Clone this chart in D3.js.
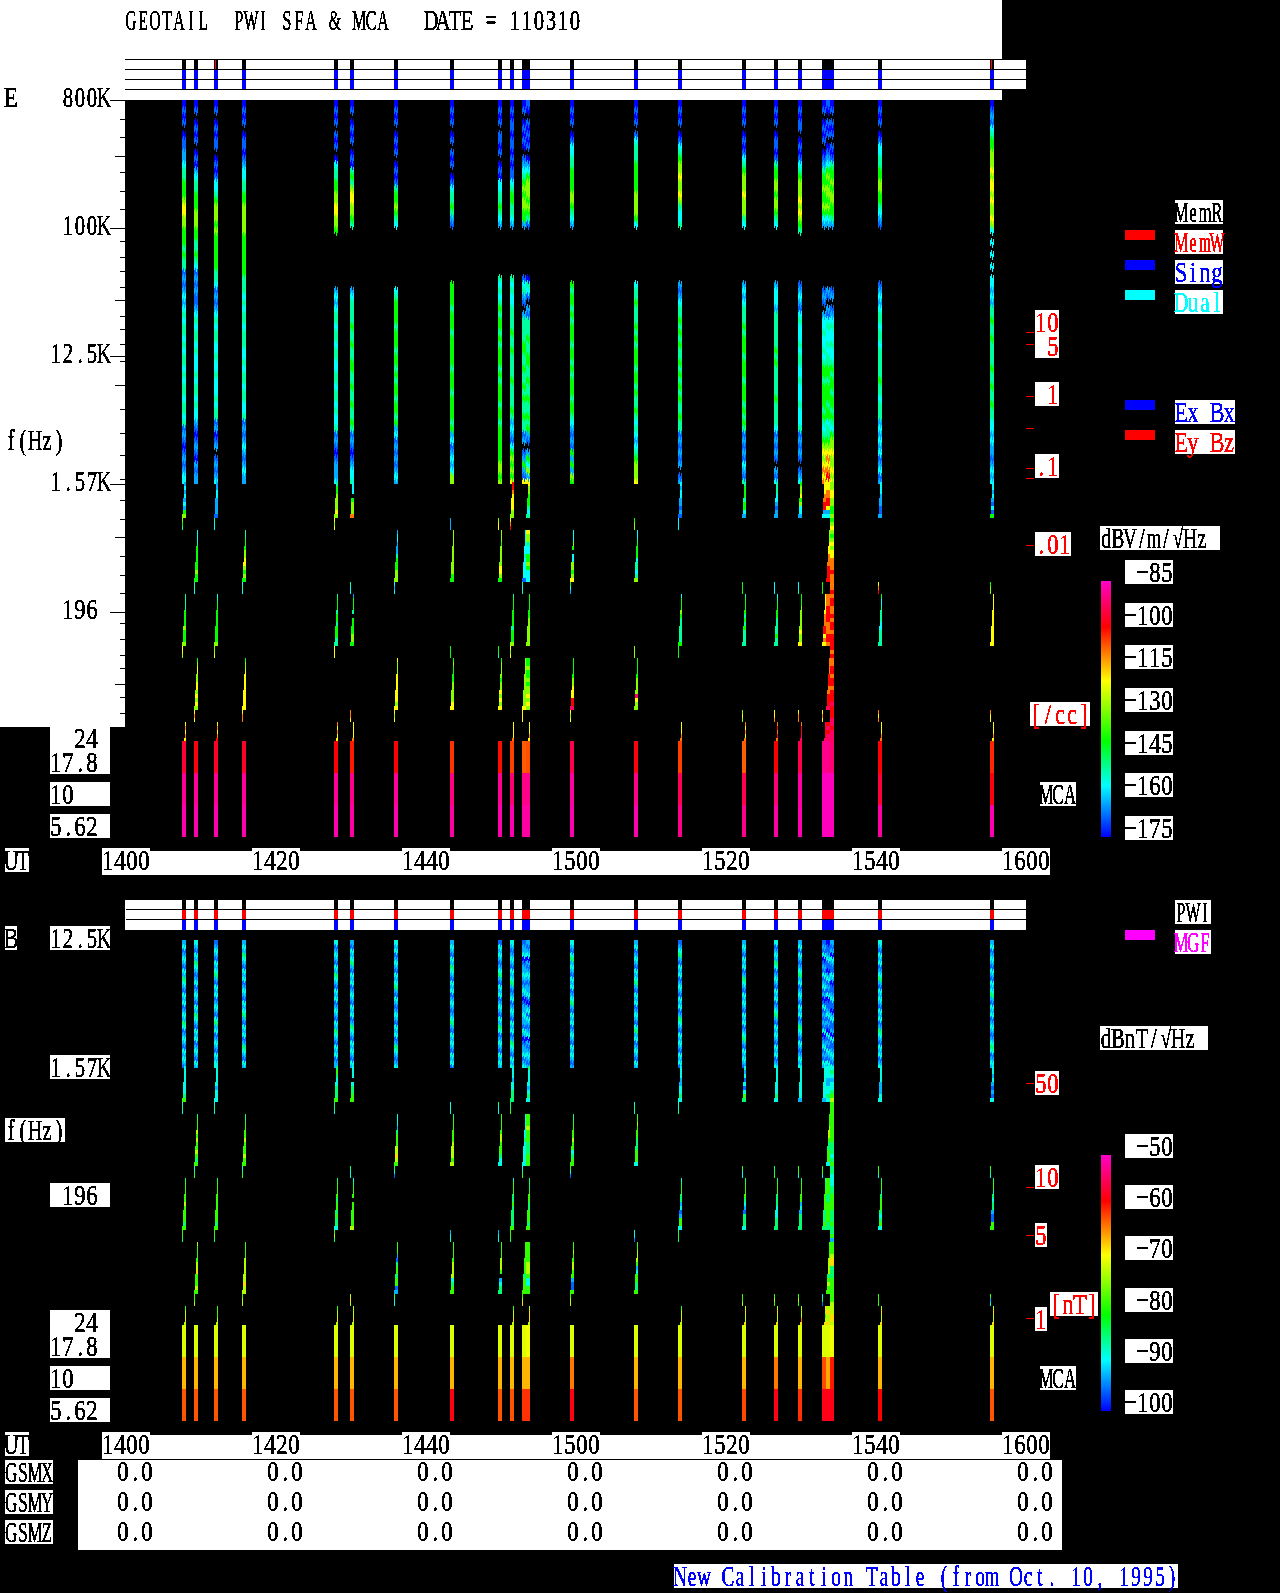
<!DOCTYPE html>
<html lang="en">
  <head>
    <meta charset="UTF-8" />
    <title>GEOTAIL PWI SFA and MCA 110310</title>
    <script src="https://d3js.org/d3.v7.min.js"></script>
    <style>
      html, body { margin: 0; background: #000; }
      svg { display: block; }
      text { font-family: "Liberation Serif", serif; font-size: 30px; white-space: pre; }
      rect { shape-rendering: crispEdges; }
      .tick line, line { shape-rendering: crispEdges; }
    </style>
  </head>

  <body>
    <svg id="chart" width="1280" height="1593"></svg>
    <script>
      // burst columns, minutes after 14:00 UT, each column is one 32 s slot
      const burstMin = [7.47, 9.07, 11.73, 15.47, 27.73, 29.87, 35.73, 43.2, 49.6, 51.2, 52.8, 53.33,
        59.2, 67.73, 73.6, 82.13, 86.4, 89.6, 92.8, 93.33, 93.87, 100.27, 115.2];
      const memWriteCols = [2, 22];

      // one letter per level, "." is no data
      const levelKeys = "abcdefghijkl";
      const eLevelDb = [-175, -168, -163, -157, -151, -141, -130, -120, -110, -101, -93, -85];
      const bLevelDb = [-100, -96, -93, -89, -85, -79, -73, -68, -64, -59, -55, -50];

      // E field, 800K to 1.57K, 64 rows per column
      const highE = [
        "abab.ab bcc dee fff ghhgg fff efee bcb cdcd edeededeededeedeede bcbabcb cdd",
        "ab.abab.aba cdee fffgggf feefed bcbcbbc dedeededddedeededd cbabcbacbcc",
        "ab.ababb.abab dde fgggfg ffffffeed bcbc dedeeddeddedddedee bcabc.bcbcd",
        "abab.abbab cdde eff ggggg fffffffe eededeedeeeddedeedeedde bcbcdcbcdcc",
        "abab.bab.a deeff gghhgg f ......... cdcd eedeedeeddeedeededde bcbabcccd",
        "ab.abab.aba efe ghhgg fe .......... cdee eefeefeeffeefeefeefe bcbabcdde",
        "abab.abab.abab effgf ed .......... deff ffefffeffefeffeffef cdbcbcbcdc",
        "abab.ab.bab.ab deefe cb ......... ffffefffefffffefffeffffef cdbcdcd gg",
        "abab.bbab.aba ddeefed c ........ edede feffefefffefefffeffefff fffggfg",
        "ababbabbababb deffeed c ........ ededd eeeefeefeeeefeeeefe cdcbd fgfgfh",
        "ab.ababa.b cde fgfggff c ........ b de cb.c eeeeffeefeefefeefee bc.bcfcbh",
        "ba.babab.a cdf gggfgfe b ........ a ed b.cb eeefeeffeefeefeefef cb.cfdgch",
        "abab.ab ddee ffffg gfed c ......... feffefefffeffefefffeffe dcbcb fcfcgf",
        "abab.b deee fffffg gggf d ......... deefeeefefefffeffefeefe dedcde fgggh",
        "abab.ab de fgg hgghg edde ......... cbcd eefefefeefefefefeefee bcbcbc.bc",
        "abab.abab def ggghggg ed ......... cdcde eefefffefffefffefefe bcbcbdcbe",
        "abab.abbab eff ggfggf ed ......... cdddc eeeeeefefeeeeefeeeed bcbcb.cbd",
        "ababb.abab def ggghgh gfe ........ bcdcb dedddedeeddedddeddde bcbcb.bcd",
        "ab.abab.a bc effgffgf dc .......... bcb.c ddedded effeffffef edef ghghihi",
        "ba.bab.ab cd fgfggfgf dc .......... cb.cb deddede effefffeff deef ghihijh",
        "ab.bab.ba be ffgfggff ec .......... bc.bc deddedd efeffeffef edfg ghgghgh",
        "abab.ab ddee ffggf fedcb ......... bcdc deedeedeeeeefeedeee cdcdcdbcdbc",
        "abcb deff ggghghhghgghg d.d .d.d.d dcdc eefeefeeeefeefeefee ddcdccbcdcd"
      ];

      // E field below 1.57K: sweep, stub, sweep, stub, sweep, stub, sweep, stub, sweep
      // "=" marks a group that fills the whole slot instead of the stair
      const lowE = [
        "cdcdcdcfg gfe . . eeeeffffgfffg hhg . . hihih",
        ". . dddeffffffgff eed . . fghhgghhghghg hih .",
        "ccddccccb edd . . deffffffffffg ggh . . hihij",
        ". . eefffgghhgfgf ded . . fgghhhhhhhhhh hii .",
        "effgggghg hgh . . efffeffefffee hhh . . ihihh",
        "ddd.fgggi . . edd cfffe.ffffggf . . iih hhhhi",
        ". . cddcccefffggg dcd . . hggghhhhhhhgh hgh .",
        ". ccc gggggggggggff . . fff fgffffggggghh . .",
        ". ghh gggfggggghhgf . . ffe fggggfgghghgh . .",
        "jjihhhhgg hij . . efffffffefffg hgh . . hhhhi",
        ". . ddddddedddddb ede . . ggggggggggggh hhh .",
        "hggfffede . =hggeddffgfddd . ffffffggggggg . =ffgffgfgghghg . hhhih",
        ". . dddgf.ddggfgh fdc . . fffffgghhhjjk hgh .",
        ". fgg ddeffffdeedeg . . ggg fffffggggkhgg . .",
        "dcddccbcb ddd . . dfffgfeeeeeef fff . . hhhii",
        "efffeffdc . . fff effffefefeeee . . ghg ihihi",
        "eeeddcbcc . . ddd deffffeeeefee . . hhi ijiji",
        "fgghfgddc . . dde fffgggggghggh . . hii ijjkk",
        "hhhiijjcd . . fff hhhhhiiijjhih . . hih kjjjk",
        "=hhiijjhcd . ggghhhiiijjjj . =iiijjjjiiijji . iiiijjjiijjjk . =jkjkk",
        "=gghhggffg =fgh =gfghghhiiijii =iij =ijjiijijjijjj =jij =iijjijjijjjkj =jjk =kjkkk",
        "dddcccbbc . . hij fddeeeeddeeee . . ihi hhhii",
        "ddcdcbdbf . . fgg hhhhhhhhhhhhh . . ihh hhhih"
      ];

      // B field, 12.5K to 1.57K, 32 rows per column
      const highB = [
        "cdbcdcbdcedcbdcdbcdcedbcdcbdcdcb",
        "dcbdcedcbcdbcdcbdcedcbdcdbcdcbdc",
        "bcdcbdcdecbdcdbcdcbdecdbcdcbdcdd",
        "cdcedcbdcdbcdcbdcdecbdcdbcedcbdc",
        "dbcdcbdcedcbdcdbcdcbdcedcbdcdbcc",
        "cbdcdecbdcdbcdcbdcdbcedcbdcdcbdc",
        "dcdbcdcbdcdecbdcbcdcbdcdbcedcbcd",
        "cdcbdcedcbdcdbcdcbcdecbdcdcbdcdb",
        "bdcdcbcdecbdcdbcdcbdcedbcdcbdcdc",
        "dcbcdcbdcdecbcdbcdcbdcdbcedcbdcd",
        "bccdabccdcbcdcabccdccbdcabccdbcd",
        "cbcdacbcdcbccdbacdbdcbcdacbcdcbc",
        "dcbdecdcbdcdbcdecbdcdbcdcbdcdcbc",
        "cdbcdcbdcdecbdcdbcdcbdecdbcdcbdc",
        "bcdecbdcdbcdcbdcdbcedcbdcdcbdcdb",
        "cdcbdcdbcedcbdcdcbdcdbcdecbdcdcb",
        "dbcdcedbcdcbdcdbcdecbdcdcbdcdbcd",
        "cdbdcbcdecdbcdcbdcdbcedcbdcbcdcd",
        "bcbdabcbdbcdbcabdbcbcbdabcdbcbdc",
        "abbcdbbacdbcbdabbcdbcbadbcbdcbdc",
        "cbcadcbbdcabbcdbbacdbbcadbbcdcbd",
        "dcbdcdbcdecbdcdcbdcdbcedcbdcdbcd",
        "cdbcdcbdcbdcdecbdcdbcdcbcdedbcdc"
      ];

      // B field below 1.57K, same grouping as lowE
      const lowB = [
        "dddddddef ded . . efffffgffffef ffe . . fgghg",
        ". . efffgfgffgfef def . . gffffgghfffgf ffg .",
        "dddddcddd ded . . effffffffffef ffe . . fffgg",
        ". . eeffffgfffgff def . . ffffgggggghgg fgg .",
        "efeddeeef eed . . effffeffefeed fge . . fgghg",
        "ddd.deeff . . edd defff.ffffffg . . ghg ggghg",
        ". . dddcefffgghgf edb . . fffcbeffeffbc fdd .",
        ". ddd effffffggggfg . . cdd fffffggggdeff . .",
        ". edd fffffggfffedd . . cdd ffffgggf.cdee . .",
        "dddcddeee eef . . dfffeefeeeeef ffe . . fgghg",
        ". . ddddddeddddddb def . . ffffffffeffff fgh .",
        "eddddcded . =fffgfffeeefff . eeefffeefffef . =fffffgggfddf . ghhhg",
        ". . eeffffgffdeff fdb . . ffgffggffcbbf fgg .",
        ". ded ffgfffeeefffd . . ddb ffgggfcdffeef . .",
        "dddccdded dde . . deffeecdbcffd efe . . fgghg",
        "dcdbdbdfe . . fdd effffedcbeeed . . ffg ghggh",
        "ddddddded . . eef efffeeedddeee . . fgf ghggh",
        "ddddddddc . . ffd efffffcdceeee . . fgf gggih",
        "ddddddddc . . ffd deefffffeeefe . . deb hgfgh",
        "=dddccdded . fffgggfeefffd . =ffffeefffffe . ffffggggefgf . =ghggh",
        "=dedcddefg =fff =fffffffeeedef =eed =ddeeffffeeefe =efc =fffghheeefff =ffg =gghhg",
        "ddddcccdd . . ffd effdefffedefd . . fff ghggh",
        "ddcdcbcbd . . fed effdedeecbbff . . fcd ghggh"
      ];

      // MCA channels, dB per burst column
      const mcaChannels = ["17.8", "10", "5.62"];
      const mcaE = [
        [-97, -100, -98, -98, -101, -103, -101, -105, -102, -106, -108, -107, -95, -100, -106, -108, -101, -95, -90, -90, -92, -101, -104],
        [-89, -89, -89, -89, -89, -90, -89, -91, -89, -92, -90, -90, -88, -90, -94, -95, -92, -88, -86, -86, -86, -97, -100],
        [-87, -87, -87, -87, -87, -88, -87, -88, -87, -87, -88, -88, -87, -87, -90, -90, -88, -87, -86, -86, -86, -88, -87]
      ];
      const mcaB = [
        [-71, -71, -71, -71, -71, -71, -71, -71, -71, -71, -71, -70, -71, -71, -71, -71, -71, -71, -71, -71, -70, -71, -71],
        [-66.5, -66.5, -66.5, -66.5, -66.5, -66.5, -66.5, -66.5, -66.5, -66.5, -66.5, -66.5, -64, -66.5, -66.5, -66.5, -64, -66.5, -62, -66, -60, -66.5, -66.5],
        [-62.5, -62.5, -62.5, -62.5, -62.5, -62.5, -62.5, -58, -62.5, -62.5, -61, -61, -58, -62.5, -62.5, -62, -58, -61, -58, -58, -58, -59, -62.5]
      ];

      const timeTicks = [0, 20, 40, 60, 80, 100, 120];
      const timeLabels = ["1400", "1420", "1440", "1500", "1520", "1540", "1600"];
      const gsmRows = ["GSMX", "GSMY", "GSMZ"];
      const gsmValues = [0, 0, 0, 0, 0, 0, 0];

      const freqMajor = [800000, 100000, 12500, 1562.5, 195.3];
      const freqMedium = [322000, 31000, 7800, 661, 60.6];
      const freqMinor = [588000, 438000, 248000, 182000, 136000, 80900, 62300, 49800, 38400, 24000, 19400,
        15200, 11500, 5300, 3570, 2500, 1690, 1200, 885, 486, 357, 267, 163, 126, 97.7, 78.7, 49, 37.7];

      const densityE = [10, 5, 1, 0.5, 0.1, 0.08, 0.01];
      const densityB = [50, 10, 5, 1];

      const colorTicksE = [-85, -100, -115, -130, -145, -160, -175];
      const colorTicksB = [-50, -60, -70, -80, -90, -100];
      const colorStops = [0, 0.2, 0.375, 0.61, 0.82, 1];
      const colorNames = ["#0000ff", "#00ffff", "#00ff00", "#ffff00", "#ff0000", "#ff00c8"];

      const svg = d3.select("#chart");
      const defs = svg.append("defs");
      const crisp = defs.append("filter").attr("id", "crisp")
        .attr("color-interpolation-filters", "sRGB");
      crisp.append("feComponentTransfer").append("feFuncA")
        .attr("type", "discrete").attr("tableValues", "0 1 1 1");

      const x = d3.scaleLinear().domain([0, 120]).range([126, 1026]);
      const y = d3.scaleLog().base(2).domain([800000, 195.3125]).range([100, 612]);
      const rowHz = (topHz, octaves, r) => topHz * Math.pow(2, -r * octaves);
      const lowTopHz = 1614;
      // drawing only: staggers the rows of the 4 pixel columns so the coarse rows look less blocky
      const pixelPhase = [0.33, 0, 0.67, 0.17];

      const measure = document.createElement("canvas").getContext("2d");
      measure.font = '30px "Liberation Serif"';

      // the original uses a fixed 12 px cell for every character
      function cellText(parent, cx, cy, str, color, box) {
        const chars = Array.from(str);
        if (box) {
          parent.append("rect").attr("x", cx).attr("y", cy)
            .attr("width", chars.length * 12).attr("height", 24).attr("fill", "#fff");
        }
        const widths = chars.map((c) => measure.measureText(c).width);
        const sx = Math.min(0.76, 15 / d3.max(widths));
        const xs = chars.map((c, i) => (12 * i + (12 - widths[i] * sx) / 2) / sx);
        parent.append("text")
          .attr("transform", `translate(${cx},${cy + 22}) scale(${sx},1)`)
          .attr("x", xs.join(" "))
          .attr("fill", color)
          .style("filter", "url(#crisp)")
          .text(str);
      }

      // white backdrop above and left of the plots
      svg.append("rect").attr("width", 1002).attr("height", 100).attr("fill", "#fff");
      svg.append("rect").attr("width", 125).attr("height", 727).attr("fill", "#fff");

      function drawStrip(stripTop, rowColors) {
        const g = svg.append("g");
        g.append("rect").attr("x", x(0) - 1).attr("y", stripTop).attr("width", 901).attr("height", 30).attr("fill", "#fff");
        burstMin.forEach((t) => {
          rowColors.forEach((c, r) => {
            g.append("rect").attr("x", Math.round(x(t))).attr("y", stripTop + r * 10)
              .attr("width", 4).attr("height", 10).attr("fill", c);
          });
        });
        return g;
      }

      function drawPanel(dy, high, highTopHz, highOctaves, low, mca, levelDb, color) {
        const g = svg.append("g").attr("transform", `translate(0,${dy})`);
        const cell = (key, px, yTop, yBot, w) => {
          const k = levelKeys.indexOf(key);
          if (k < 0 || yBot <= yTop) return;
          g.append("rect").attr("x", px).attr("y", yTop)
            .attr("width", w).attr("height", yBot - yTop)
            .attr("fill", color(levelDb[k]));
        };

        high.forEach((s, i) => {
          const px = Math.round(x(burstMin[i]));
          const keys = Array.from(s.replace(/ /g, ""));
          pixelPhase.forEach((phase, c) => {
            keys.forEach((key, r) => {
              const y0 = Math.round(y(rowHz(highTopHz, highOctaves, r === 0 ? 0 : r + phase)));
              const y1 = Math.round(y(rowHz(highTopHz, highOctaves, Math.min(r + 1 + phase, keys.length))));
              cell(key, px + c, y0, y1, 1);
            });
          });
        });

        const groupRows = [9, 3, 13, 3, 13, 3, 13, 3, 5];
        const stairStart = [2, 1, 1, 1, 1, 1, 1, 1, 1];
        low.forEach((s, i) => {
          const px = Math.round(x(burstMin[i]));
          let r = 0;
          s.trim().split(/\s+/).forEach((group, gi) => {
            const full = group[0] === "=";
            const keys = full ? group.slice(1) : group;
            d3.range(groupRows[gi]).forEach((k) => {
              const key = keys[Math.min(k, keys.length - 1)];
              const stub = gi % 2 === 1;
              const w = full ? 4 : stub ? 1 : Math.min(4, stairStart[gi] + Math.floor(k / 4));
              const left = full || stub ? 0 : 4 - w;
              const y0 = Math.round(y(rowHz(lowTopHz, 3 / 32, r + k)));
              const y1 = Math.round(y(rowHz(lowTopHz, 3 / 32, r + k + 1)));
              cell(key, px + left, y0, Math.min(y1, 741), w);
            });
            r += groupRows[gi];
          });
        });

        const band = d3.scaleBand().domain(mcaChannels).range([741, 837]);
        mcaChannels.forEach((ch, b) => {
          mca[b].forEach((db, i) => {
            g.append("rect").attr("x", Math.round(x(burstMin[i]))).attr("y", band(ch))
              .attr("width", 4).attr("height", band.bandwidth()).attr("fill", color(db));
          });
        });
        return g;
      }

      function drawColorBar(ticks, barTop) {
        const scale = d3.scaleLinear().domain([d3.min(ticks), d3.max(ticks)]).range([barTop + 256, barTop]);
        const [lo, hi] = scale.domain();
        const color = d3.scaleLinear()
          .domain(colorStops.map((s) => lo + s * (hi - lo)))
          .range(colorNames).clamp(true);
        const g = svg.append("g");
        d3.range(256).forEach((p) => {
          g.append("rect").attr("x", 1101).attr("y", barTop + p).attr("width", 10).attr("height", 1)
            .attr("fill", color(scale.invert(barTop + p + 0.5)));
        });
        const fmt = d3.format(">4d");
        ticks.forEach((v) => cellText(g, 1125, Math.round(scale(v)) - 9 - 12, fmt(v), "#000", true));
        return color;
      }

      function drawTime(rowY) {
        const g = svg.append("g");
        g.append("rect").attr("x", 102).attr("y", rowY + 3).attr("width", 948).attr("height", 24).attr("fill", "#fff");
        cellText(g, 5, rowY, "UT", "#000", true);
        timeTicks.forEach((t, i) => cellText(g, x(t) - 24, rowY, timeLabels[i], "#000", true));
      }

      function legend(rows) {
        const g = svg.append("g");
        rows.forEach(([label, color, rowY, swatch]) => {
          if (swatch) g.append("rect").attr("x", 1125).attr("y", rowY).attr("width", 30).attr("height", 10).attr("fill", color);
          cellText(g, 1175, rowY, label, color, true);
        });
      }

      function densityTicks(values, positions, labels) {
        const scale = d3.scaleLog().domain(values).range(positions);
        const g = svg.append("g");
        g.selectAll("line").data(values).join("line")
          .attr("x1", 1026).attr("x2", 1034)
          .attr("y1", (d) => Math.round(scale(d)) + 0.5).attr("y2", (d) => Math.round(scale(d)) + 0.5)
          .attr("stroke", "#f00");
        labels.forEach(([str, ly]) => cellText(g, 1035, ly, str, "#f00", true));
      }

      // ---------- E panel ----------
      svg.append("rect").attr("x", 125).attr("y", 100).attr("width", 877).attr("height", 641).attr("fill", "#000");

      const eStrip = drawStrip(59, ["#000", "#00f", "#00f"]);
      [0, 1, 2, 3].forEach((r) => {
        eStrip.append("line").attr("x1", 125).attr("x2", 1026)
          .attr("y1", 59.5 + r * 10).attr("y2", 59.5 + r * 10).attr("stroke", "#000");
      });
      memWriteCols.forEach((i) => {
        eStrip.append("rect").attr("x", Math.round(x(burstMin[i])) + 1).attr("y", 60)
          .attr("width", 1).attr("height", 9).attr("fill", "#f00");
      });

      const colorE = drawColorBar(colorTicksE, 581);
      const colorB = drawColorBar(colorTicksB, 1155);
      drawPanel(0, highE, 800000, 0.140625, lowE, mcaE, eLevelDb, colorE);

      [[freqMinor, 5], [freqMedium, 10], [freqMajor, 15]].forEach(([vals, size]) => {
        const ax = svg.append("g").attr("transform", "translate(125,0)")
          .call(d3.axisLeft(y).tickValues(vals).tickSize(size).tickFormat(""));
        ax.select(".domain").remove();
        ax.selectAll(".tick line").attr("stroke", "#000");
      });

      const topLabels = svg.append("g");
      cellText(topLabels, 125, 8, "GEOTAIL  PWI SFA & MCA", "#000", false);
      cellText(topLabels, 425, 8, "DATE = 110310", "#000", false);
      cellText(topLabels, 5, 85, "E", "#000", false);
      [["800K", 62, 100], ["100K", 62, 228], ["12.5K", 50, 356], ["1.57K", 50, 484], ["196", 62, 612]].forEach(([s, lx, ty]) => {
        cellText(topLabels, lx, ty - 15, s, "#000", false);
      });
      cellText(topLabels, 5, 428, "f(Hz)", "#000", false);

      function mcaLabels(parent, rows) {
        rows.forEach(([s, ly]) => cellText(parent, 50, ly, s, "#000", true));
      }
      mcaLabels(topLabels, [["  24 ", 726], ["17.8 ", 750], ["10   ", 782], ["5.62 ", 814]]);

      densityTicks(densityE, [332, 344, 396, 428, 468, 478, 545],
        [["10", 310], [" 5", 334], [" 1", 382], [".1", 454], [".01", 532]]);
      cellText(svg, 1030, 702, "[/cc]", "#f00", true);
      cellText(svg, 1040, 782, "MCA", "#000", true);
      cellText(svg, 1100, 526, "dBV/m/√Hz ", "#000", true);

      legend([["MemR", "#000", 200, false], ["MemW", "#f00", 230, true], ["Sing", "#00f", 260, true],
        ["Dual", "#0ff", 290, true], ["Ex Bx", "#00f", 400, true], ["Ey Bz", "#f00", 430, true]]);
      drawTime(848);

      // ---------- B panel ----------
      const bStrip = drawStrip(900, ["#000", "#f00", "#00f"]);
      [1, 2].forEach((r) => {
        bStrip.append("line").attr("x1", 126).attr("x2", 1026)
          .attr("y1", 899.5 + r * 10).attr("y2", 899.5 + r * 10).attr("stroke", "#000");
      });
      drawPanel(584, highB, 12500, 0.09375, lowB, mcaB, bLevelDb, colorB);

      const bottomLabels = svg.append("g");
      cellText(bottomLabels, 5, 926, "B", "#000", true);
      [["12.5K", 926], ["1.57K", 1055], [" 196 ", 1183]].forEach(([s, ly]) => cellText(bottomLabels, 50, ly, s, "#000", true));
      cellText(bottomLabels, 5, 1118, "f(Hz)", "#000", true);
      mcaLabels(bottomLabels, [["  24 ", 1310], ["17.8 ", 1334], ["10   ", 1366], ["5.62 ", 1398]]);

      densityTicks(densityB, [1083, 1187, 1235, 1318],
        [["50", 1071], ["10", 1165], ["5", 1223], ["1", 1307]]);
      cellText(svg, 1050, 1292, "[nT]", "#f00", true);
      cellText(svg, 1040, 1366, "MCA", "#000", true);
      cellText(svg, 1100, 1026, "dBnT/√Hz ", "#000", true);
      legend([["PWI", "#000", 900, false], ["MGF", "#f0f", 930, true]]);
      drawTime(1432);

      // ---------- orbit table ----------
      const table = svg.append("g");
      table.append("rect").attr("x", 78).attr("y", 1460).attr("width", 984).attr("height", 90).attr("fill", "#fff");
      gsmRows.forEach((name, r) => {
        cellText(table, 5, 1460 + r * 30, name, "#000", true);
        gsmValues.forEach((v, i) => {
          cellText(table, x(timeTicks[i]) - 9, 1459 + r * 30, d3.format(".1f")(v), "#000", false);
        });
      });

      cellText(svg, 674, 1564, "New Calibration Table (from Oct. 10, 1995)", "#00f", true);
    </script>
  </body>
</html>
